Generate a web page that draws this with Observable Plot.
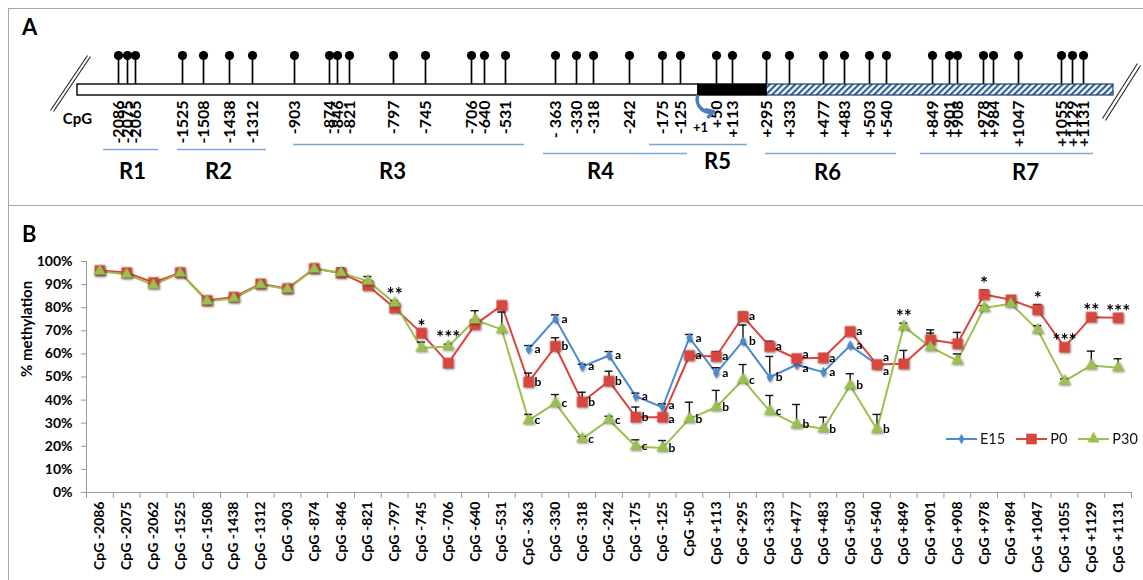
<!DOCTYPE html>
<html>
<head>
<meta charset="utf-8">
<script src="https://cdn.jsdelivr.net/npm/d3@7"></script>
<script src="https://cdn.jsdelivr.net/npm/@observablehq/plot@0.6"></script>
<style>
  body { margin: 0; background: #fff; font-family: Lato, "DejaVu Sans", sans-serif; }
  #wrap { position: relative; width: 1143px; height: 580px; overflow: hidden; background: #fff; }
  .box { position: absolute; border: 1px solid #a8a8a8; box-sizing: border-box; pointer-events: none; }
  .plabel { position: absolute; font: bold 22px Lato, sans-serif; line-height: 1.2; color: #000; }
  #legend { position: absolute; left: 946px; top: 430px; display: flex; align-items: center; font: 14.5px Lato, sans-serif; color: #111; }
  #legend .item { display: flex; align-items: center; margin-right: 11px; }
  #legend .item span { margin-left: 3px; }
  #chartB g[aria-label="dot"] { filter: drop-shadow(1px 1.5px 1.2px rgba(0,0,0,0.45)); }
</style>
</head>
<body>
<div id="wrap">
  <div id="chartA" style="position:absolute;left:0;top:0"></div>
  <div id="chartB" style="position:absolute;left:0;top:206px"></div>
  <div class="box" style="left:8px;top:8px;width:1145px;height:198px"></div>
  <div class="box" style="left:8px;top:205px;width:1145px;height:390px"></div>
  <div class="plabel" style="left:22px;top:14px">A</div>
  <div class="plabel" style="left:22px;top:221px">B</div>
  <div id="legend"></div>
</div>
<script>
// ---------- Panel A: CpG map (schematic positions) ----------
const mapPos = [118,127,135,182,203,229,252,294,329,337,349,393,425,471,484,505,555,576,593,629,662,680,716,732,766,789,823,844,869,886,932,949,957,983,993,1018,1061,1072,1083];
const mapLabels = ["-2086","-2075","-2065","-1525","-1508","-1438","-1312","-903","-874","-846","-821","-797","-745","-706","-640","-531","- 363","-330","-318","-242","-175","-125","+50","+113","+295","+333","+477","+483","+503","+540","+849","+901","+908","+978","+984","+1047","+1055","+1129","+1131"];
const barParts = [
  {name: "upstream", from: 77, to: 698},
  {name: "exon", from: 698, to: 766},
  {name: "intron", from: 766, to: 1113}
];
const regionNames = ["R1","R2","R3","R4","R5","R6","R7"];
const regionFrom  = [103, 177, 293, 543, 649, 765, 920];
const regionTo    = [158, 266, 524, 687, 747, 896, 1093];
const regionLabelPos = [132, 218, 392, 600, 717, 827, 1025];
const regionLevel = [149, 149, 144, 153, 144, 153, 153];
const regionLabelLevel = [171, 171, 171, 171, 161, 172, 172];

// ---------- Panel B: % methylation ----------
const cpgLabels = ["CpG -2086","CpG -2075","CpG -2062","CpG -1525","CpG -1508","CpG -1438","CpG -1312","CpG -903","CpG -874","CpG -846","CpG -821","CpG -797","CpG -745","CpG -706","CpG -640","CpG -531","CpG - 363","CpG -330","CpG -318","CpG -242","CpG -175","CpG -125","CpG +50","CpG +113","CpG +295","CpG +333","CpG +477","CpG +483","CpG +503","CpG +540","CpG +849","CpG +901","CpG +908","CpG +978","CpG +984","CpG +1047","CpG +1055","CpG +1129","CpG +1131"];
const seriesNames = ["E15", "P0", "P30"];
const e15 = [null,null,null,null,null,null,null,null,null,null,null,null,null,null,null,null,62,75.2,54.5,59.3,41.6,36.9,67,51.7,65.5,49.9,55.3,52.1,63.6,55.4,null,null,null,null,null,null,null,null,null];
const p0  = [96.1,95.2,90.9,95.2,83.1,84.6,90.3,88.3,97,95,89.6,79.9,69,56,72.7,81,47.8,63.3,39.2,48.2,32.6,32.6,59.3,58.9,76.2,63.2,58,58.3,69.7,55.4,55.7,66.1,64.4,85.7,83.4,79.1,62.9,75.9,75.6];
const p30 = [95.8,94.4,89.8,95,82.8,84,90,88,96.7,95.2,91.5,82,62.6,63.2,74.7,70.6,31.2,38.7,23.2,31.5,19.9,19.3,31.9,36.9,48.8,35.2,29.4,27.6,46.3,27.3,71.9,62.9,57.1,79.9,81.7,70.4,48.2,55,54];
const errE15 = [0,0,0,0,0,0,0,0,0,0,0,0,0,0,0,0,1.6,1.7,1,1.7,1.4,1.5,1.4,2.3,7,9,0,0,0,0,0,0,0,0,0,0,0,0,0];
const errP0  = [0,0,0,0,0,0,0,1.5,0,0,0,0,0,0,0,0,3.9,3.7,4.2,4.3,4.4,1,0,2.1,1.8,2.3,0,1.4,1,0,5.8,4.3,4.9,2,0,2.3,0,0,0];
const errP30 = [0,0,0,0,0,0,0,0,0,2,2,1,2.5,1,4,7.5,2.6,3.7,1,1.5,2.9,3.2,7.2,7.3,6.6,6.8,8.7,5,5.1,6.5,1.4,6.1,2.9,1,0,1.8,1,6.2,3.9];
const lettersE15 = ["","","","","","","","","","","","","","","","","a","a","a","a","a","a","a","a","b","b","a","a","a","a","","","","","","","","",""];
const lettersP0  = ["","","","","","","","","","","","","","","","","b","b","b","b","b","a","a","a","a","a","a","a","a","a","","","","","","","","",""];
const lettersP30 = ["","","","","","","","","","","","","","","","","c","c","c","c","c","b","b","b","c","c","b","b","b","b","","","","","","","","",""];
const starCpG = ["CpG -797","CpG -745","CpG -706","CpG +849","CpG +978","CpG +1047","CpG +1055","CpG +1129","CpG +1131"];
const starText = ["**","*","***","**","*","*","***","**","***"];
const yTicks = [0,10,20,30,40,50,60,70,80,90,100];

const colors = {E15: "#4a8bd0", P0: "#d9463d", P30: "#9bc04f"};
const symbols = {E15: "diamond", P0: "square", P30: "triangle"};
const radii = {E15: 3.2, P0: 6, P30: 4.6};

// ---------- build panel A ----------
const lolli = mapPos.map((p, i) => ({p, label: mapLabels[i]}));
const regions = regionNames.map((n, i) => ({name: n, from: regionFrom[i], to: regionTo[i], cx: regionLabelPos[i], level: regionLevel[i], ly: regionLabelLevel[i]}));
const slashes = [
  {x1: 50, y1: 110, x2: 87, y2: 55}, {x1: 53, y1: 111, x2: 90, y2: 56},
  {x1: 1102, y1: 118, x2: 1137, y2: 63}, {x1: 1105, y1: 120, x2: 1140, y2: 65}
];
const chartA = Plot.plot({
  width: 1143, height: 205, margin: 0,
  x: {domain: [0, 1143], axis: null},
  y: {domain: [0, 205], range: [0, 205], axis: null},
  style: {background: "transparent", fontFamily: "Lato, sans-serif", color: "#000", overflow: "visible"},
  marks: [
    Plot.link(slashes, {x1: "x1", y1: "y1", x2: "x2", y2: "y2", stroke: "#222", strokeWidth: 1.1}),
    Plot.ruleX(lolli, {x: "p", y1: 55, y2: 85, stroke: "#000", strokeWidth: 1.7}),
    Plot.dot(lolli, {x: "p", y: 55, r: 4.6, fill: "#000"}),
    Plot.rect([barParts[0]], {x1: "from", x2: "to", y1: 84, y2: 95, fill: "white", stroke: "#000", strokeWidth: 1.4}),
    Plot.rect([barParts[2]], {x1: "from", x2: "to", y1: 84, y2: 95, fill: "url(#hatch)", stroke: "#1c3f66", strokeWidth: 1.2}),
    Plot.rect([barParts[1]], {x1: "from", x2: "to", y1: 84, y2: 95, fill: "#000", stroke: "#000", strokeWidth: 1.4}),
    Plot.text(lolli, {x: "p", y: 100, text: "label", rotate: -90, textAnchor: "end", fontSize: 16, fontWeight: "bold"}),
    Plot.text(["CpG"], {x: 77, y: 119, text: d => d, fontSize: 15, fontWeight: "bold"}),
    Plot.text(["+1"], {x: 700, y: 127, text: d => d, fontSize: 13, fontWeight: "bold"}),
    Plot.arrow([{}], {x1: 697, y1: 96, x2: 713, y2: 111, bend: -60, stroke: "#4a7ebb", strokeWidth: 3.5, headLength: 7}),
    Plot.ruleY(regions, {y: "level", x1: "from", x2: "to", stroke: "#79a7d8", strokeWidth: 1.3}),
    Plot.text(regions, {x: "cx", y: "ly", text: "name", fontSize: 22, fontWeight: "bold"})
  ]
});
const defs = d3.select(chartA).insert("defs", ":first-child");
const pat = defs.append("pattern").attr("id", "hatch").attr("patternUnits", "userSpaceOnUse")
  .attr("width", 4.5).attr("height", 4.5).attr("patternTransform", "rotate(45)");
pat.append("rect").attr("width", 4.5).attr("height", 4.5).attr("fill", "#eef4fb");
pat.append("line").attr("x1", 1).attr("y1", 0).attr("x2", 1).attr("y2", 4.5).attr("stroke", "#2a5a8c").attr("stroke-width", 2);
document.getElementById("chartA").appendChild(chartA);

// ---------- build panel B ----------
const PLOT_H = 374, M_TOP = 55, M_BOTTOM = 88;
const pxPerUnit = (PLOT_H - M_TOP - M_BOTTOM) / 100;
const valuesBy = {E15: e15, P0: p0, P30: p30};
const errBy = {E15: errE15, P0: errP0, P30: errP30};
const letterBy = {E15: lettersE15, P0: lettersP0, P30: lettersP30};
const rows = [];
seriesNames.forEach(s => {
  cpgLabels.forEach((c, i) => {
    const v = valuesBy[s][i];
    if (v == null) return;
    rows.push({series: s, cpg: c, i, xc: i + 0.5, v, err: errBy[s][i], top: v + errBy[s][i], letter: letterBy[s][i], shift: 0});
  });
});
const errRows = rows.filter(d => d.err > 0);
// keep stacked significance letters from colliding: spread close pairs apart around their mean
const letterRows = rows.filter(d => d.letter);
const minGap = 14;
d3.groups(letterRows, d => d.i).forEach(([, group]) => {
  group.sort((a, b) => (b.v - a.v) || (a.series === "P0" ? -1 : 1));
  let prev = -Infinity;
  group.forEach(d => {
    const py = -d.v * pxPerUnit;
    const ny = Math.max(py, prev + minGap);
    d.shift = ny - py;
    prev = ny;
  });
  // recenter clusters that were pushed so the upper letter moves up half the amount
  for (let k = 1; k < group.length; k++) {
    const a = group[k - 1], b = group[k];
    if (b.shift > 0 && a.shift === 0) {
      const half = b.shift / 2;
      a.shift -= half; b.shift -= half;
    }
  }
});
const stars = starCpG.map((c, k) => {
  const i = cpgLabels.indexOf(c);
  const top = Math.max(p0[i] + errP0[i], p30[i] + errP30[i]);
  return {xc: i + 0.5, top, s: starText[k]};
});
const labelRows = cpgLabels.map((c, i) => ({c, xc: i + 0.5}));

const marks = [
  Plot.ruleY([0], {stroke: "#999", strokeWidth: 1}),
  Plot.ruleX([0], {stroke: "#999", strokeWidth: 1})
];
seriesNames.forEach(s => {
  marks.push(Plot.line(rows.filter(d => d.series === s), {x: "xc", y: "v", stroke: colors[s], strokeWidth: 2}));
});
marks.push(Plot.ruleX(errRows, {x: "xc", y1: "v", y2: "top", stroke: "#111", strokeWidth: 1.4}));
marks.push(Plot.ruleY(errRows, {y: "top", x1: d => d.xc - 0.15, x2: d => d.xc + 0.15, stroke: "#111", strokeWidth: 1.4}));
seriesNames.forEach(s => {
  marks.push(Plot.dot(rows.filter(d => d.series === s), {x: "xc", y: "v", symbol: () => symbols[s], r: radii[s], fill: colors[s], stroke: "none"}));
});
marks.push(Plot.text(letterRows, {x: "xc", y: d => d.v - d.shift / pxPerUnit, text: "letter", dx: 6, textAnchor: "start", fontSize: 12, fontWeight: "bold"}));
marks.push(Plot.text(stars, {x: "xc", y: "top", text: "s", dy: -6, fontSize: 19, fontWeight: "bold"}));
marks.push(Plot.text(labelRows, {x: "xc", y: 0, text: "c", rotate: -90, textAnchor: "end", dy: 9, fontSize: 14, fontWeight: "bold"}));
marks.push(Plot.text(["% methylation"], {frameAnchor: "left", text: d => d, rotate: -90, dx: -59, fontSize: 15, fontWeight: "bold"}));

const chartB = Plot.plot({
  width: 1143, height: PLOT_H,
  marginLeft: 86, marginRight: 12, marginTop: M_TOP, marginBottom: M_BOTTOM,
  x: {domain: [0, cpgLabels.length], ticks: d3.range(cpgLabels.length + 1), tickFormat: () => "", tickSize: 6, label: null},
  y: {domain: [0, 100], ticks: yTicks, tickFormat: d => d + "%", tickSize: 5, tickPadding: 9, label: null},
  symbol: {type: "identity"},
  style: {background: "transparent", fontFamily: "Lato, sans-serif", fontSize: "14px", fontWeight: "bold", color: "#000", overflow: "visible"},
  marks
});
d3.select(chartB).selectAll('[aria-label^="x-axis"] path, [aria-label^="x-axis"] line, [aria-label^="y-axis"] path, [aria-label^="y-axis"] line').attr("stroke", "#999");
document.getElementById("chartB").appendChild(chartB);

// ---------- legend ----------
const legend = d3.select("#legend");
seriesNames.forEach(s => {
  const item = legend.append("div").attr("class", "item");
  const svg = item.append("svg").attr("width", 31).attr("height", 16);
  svg.append("line").attr("x1", 0).attr("x2", 31).attr("y1", 8).attr("y2", 8).attr("stroke", colors[s]).attr("stroke-width", 2);
  const sym = {E15: d3.symbolDiamond, P0: d3.symbolSquare, P30: d3.symbolTriangle}[s];
  svg.append("path").attr("transform", "translate(15.5,8)")
    .attr("d", d3.symbol(sym, Math.PI * radii[s] * radii[s])()).attr("fill", colors[s]);
  item.append("span").text(s);
});
</script>
</body>
</html>
